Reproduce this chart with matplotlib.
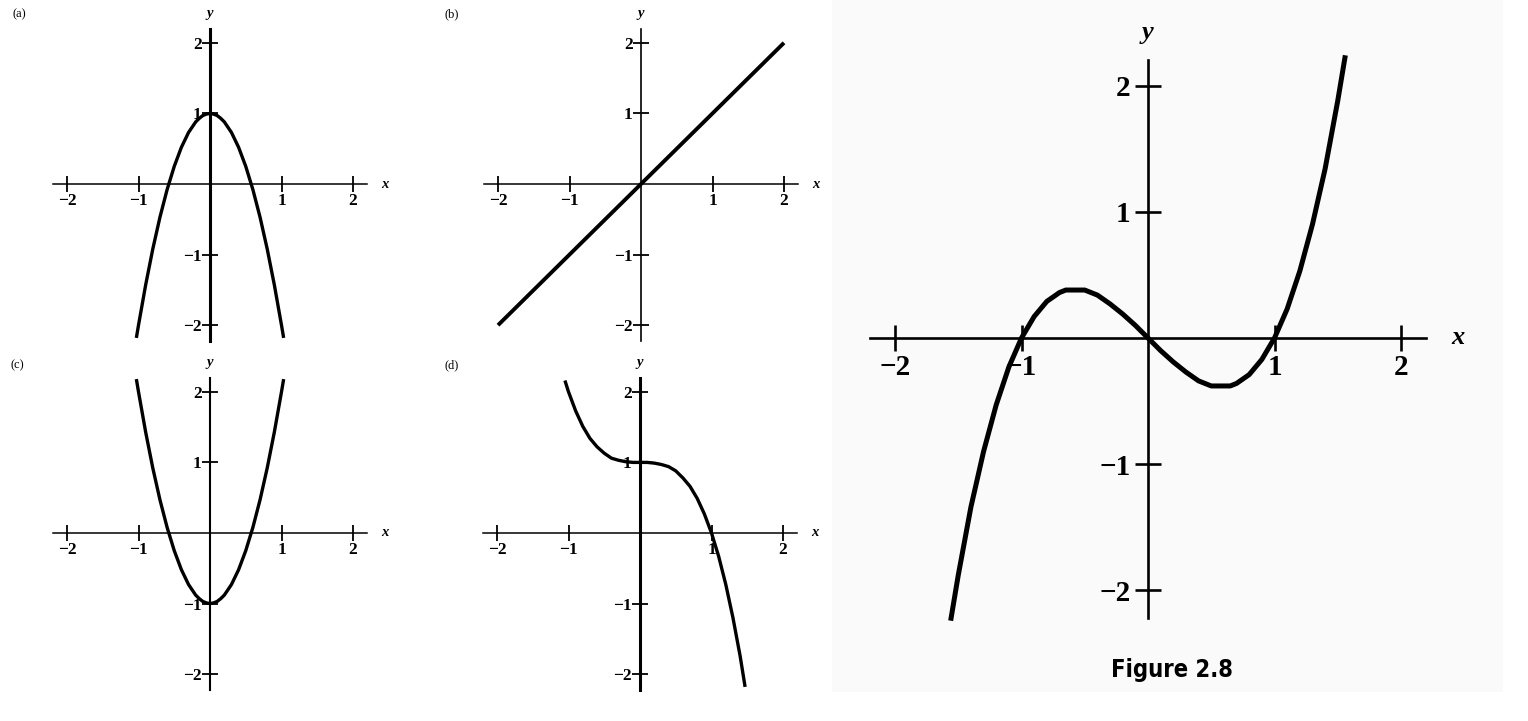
import matplotlib
matplotlib.use('Agg')
import matplotlib.pyplot as plt
from matplotlib.patches import Rectangle

W, H = 1528, 721

# ---------------- data ----------------
tick_values = [-2, -1, 1, 2]
tick_labels = ['−2', '−1', '1', '2']
panel_labels = ['(a)', '(b)', '(c)', '(d)']
caption = 'Figure 2.8'

a_x = [-1.03, -1.0, -0.9, -0.8, -0.7, -0.6, -0.5, -0.4, -0.3, -0.2, -0.15, -0.1, -0.05, 0.0,
       0.05, 0.1, 0.15, 0.2, 0.3, 0.4, 0.5, 0.6, 0.7, 0.8, 0.9, 1.0, 1.03]
a_y = [-2.18, -2.0, -1.43, -0.92, -0.47, -0.08, 0.25, 0.52, 0.73, 0.88, 0.93, 0.97, 0.99, 1.0,
       0.99, 0.97, 0.93, 0.88, 0.73, 0.52, 0.25, -0.08, -0.47, -0.92, -1.43, -2.0, -2.18]

b_x = [-2.0, -1.0, 0.0, 1.0, 2.0]
b_y = [-2.0, -1.0, 0.0, 1.0, 2.0]

c_x = [-1.03, -1.0, -0.9, -0.8, -0.7, -0.6, -0.5, -0.4, -0.3, -0.2, -0.15, -0.1, -0.05, 0.0,
       0.05, 0.1, 0.15, 0.2, 0.3, 0.4, 0.5, 0.6, 0.7, 0.8, 0.9, 1.0, 1.03]
c_y = [2.18, 2.0, 1.43, 0.92, 0.47, 0.08, -0.25, -0.52, -0.73, -0.88, -0.93, -0.97, -0.99, -1.0,
       -0.99, -0.97, -0.93, -0.88, -0.73, -0.52, -0.25, 0.08, 0.47, 0.92, 1.43, 2.0, 2.18]

d_x = [-1.05, -1.0, -0.9, -0.8, -0.7, -0.6, -0.5, -0.4, -0.3, -0.2, -0.1, 0.0,
       0.1, 0.2, 0.3, 0.4, 0.5, 0.6, 0.7, 0.8, 0.9, 1.0, 1.1, 1.2, 1.3, 1.4, 1.47]
d_y = [2.16, 2.0, 1.73, 1.51, 1.34, 1.22, 1.13, 1.06, 1.03, 1.01, 1.0, 1.0,
       1.0, 0.99, 0.97, 0.94, 0.88, 0.78, 0.66, 0.49, 0.27, 0.0, -0.33, -0.73, -1.2, -1.74, -2.18]

main_x = [-1.56, -1.5, -1.4, -1.3, -1.2, -1.1, -1.0, -0.9, -0.8, -0.7, -0.65, -0.6, -0.55, -0.5,
          -0.4, -0.3, -0.2, -0.1, 0.0, 0.1, 0.2, 0.3, 0.4, 0.5, 0.55, 0.6, 0.65, 0.7, 0.8, 0.9,
          1.0, 1.1, 1.2, 1.3, 1.4, 1.5, 1.56]
main_y = [-2.24, -1.88, -1.34, -0.90, -0.53, -0.23, 0.0, 0.17, 0.29, 0.36, 0.38, 0.38, 0.38, 0.38,
          0.34, 0.27, 0.19, 0.10, 0.0, -0.10, -0.19, -0.27, -0.34, -0.38, -0.38, -0.38, -0.38, -0.36,
          -0.29, -0.17, 0.0, 0.23, 0.53, 0.90, 1.34, 1.88, 2.24]

# ---------------- figure ----------------
fig = plt.figure(figsize=(W / 100, H / 100), dpi=100)
fig.patch.set_facecolor('white')
fig.patches.append(Rectangle((832 / W, (H - 692) / H), (1503 - 832) / W, 692 / H,
                             transform=fig.transFigure, facecolor='#fafafa',
                             edgecolor='none', zorder=-5))

SERIF = ['Liberation Serif', 'DejaVu Serif']


def make_axes(ox, oy, ux, uy, big=False, left_lw=1.2, L=2.4):
    ax = fig.add_axes([(ox - L * ux) / W, (H - oy - L * uy) / H,
                       2 * L * ux / W, 2 * L * uy / H])
    ax.set_zorder(2)
    ax.set_xlim(-L, L)
    ax.set_ylim(-L, L)
    ax.patch.set_alpha(0)
    ax.spines['top'].set_visible(False)
    ax.spines['right'].set_visible(False)
    ax.spines['left'].set_position(('data', 0))
    ax.spines['bottom'].set_position(('data', 0))
    ax.spines['bottom'].set_bounds(-2.2, 2.2)
    ax.spines['left'].set_bounds(-2.22, 2.2)
    if big:
        ax.spines['bottom'].set_linewidth(1.9)
        ax.spines['left'].set_linewidth(1.9)
        tl, tw, fs, pad_x, pad_y, lfs = 19, 1.9, 21, 2, 3, 19
    else:
        ax.spines['bottom'].set_linewidth(1.1)
        ax.spines['left'].set_linewidth(left_lw)
        tl, tw, fs, pad_x, pad_y, lfs = 11, 1.3, 12.5, 1, 0.5, 10.5
    ax.set_xticks(tick_values)
    ax.set_yticks(tick_values)
    ax.set_xticklabels(tick_labels, fontfamily=SERIF, fontweight='bold', fontsize=fs)
    ax.set_yticklabels(tick_labels, fontfamily=SERIF, fontweight='bold', fontsize=fs)
    ax.tick_params(axis='both', direction='inout', length=tl, width=tw, color='black')
    ax.tick_params(axis='x', pad=pad_x)
    ax.tick_params(axis='y', pad=pad_y)
    ax.text(2.45, 0, 'x', fontfamily=SERIF, fontstyle='italic', fontweight='bold',
            fontsize=lfs, ha='center', va='center', clip_on=False)
    ax.text(0, 2.42, 'y', fontfamily=SERIF, fontstyle='italic', fontweight='bold',
            fontsize=lfs, ha='center', va='center', clip_on=False)
    return ax


ax_a = make_axes(210, 184, 71.5, 70.6, left_lw=2.2)
ax_a.plot(a_x, a_y, color='black', lw=2.4, solid_capstyle='butt', clip_on=False)

ax_b = make_axes(641, 184, 71.5, 70.6, left_lw=1.2)
ax_b.plot(b_x, b_y, color='black', lw=2.8, solid_capstyle='butt', clip_on=False)

ax_c = make_axes(210, 533, 71.5, 70.6, left_lw=1.5)
ax_c.plot(c_x, c_y, color='black', lw=2.4, solid_capstyle='butt', clip_on=False)

ax_d = make_axes(640, 533, 71.5, 70.6, left_lw=2.2)
ax_d.plot(d_x, d_y, color='black', lw=2.4, solid_capstyle='butt', clip_on=False)

ax_m = make_axes(1148, 338, 126.5, 126.2, big=True)
ax_m.plot(main_x, main_y, color='black', lw=3.6, solid_capstyle='butt',
          solid_joinstyle='round', clip_on=False)

# panel labels
for lab, (px, py) in zip(panel_labels, [(19, 14), (452, 14), (17, 365), (452, 365)]):
    fig.text(px / W, 1 - py / H, lab, fontfamily=SERIF, fontsize=9,
             ha='center', va='center')

fig.text(1172 / W, 1 - 670 / H, caption,
         fontfamily=['DejaVu Sans'], fontstretch='condensed', fontweight='bold',
         fontsize=17, ha='center', va='center')

fig.savefig('out.png', dpi=100, facecolor='white')
